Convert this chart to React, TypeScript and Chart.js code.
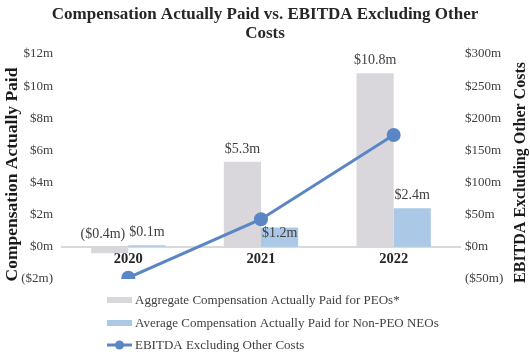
import React, { useEffect, useRef } from 'react';
import { Chart, registerables } from 'chart.js';

Chart.register(...registerables);

const titleLines = ['Compensation Actually Paid vs. EBITDA Excluding Other', 'Costs'];
const categories = ['2020', '2021', '2022'];
const peoValues = [-0.4, 5.3, 10.8];
const neoValues = [0.1, 1.2, 2.4];
const ebitdaValues = [-48, 43, 174];
const seriesNames = [
  'Aggregate Compensation Actually Paid for PEOs*',
  'Average Compensation Actually Paid for Non-PEO NEOs',
  'EBITDA Excluding Other Costs',
];
const leftAxisTitle = 'Compensation Actually Paid';
const rightAxisTitle = 'EBITDA Excluding Other Costs';

const SERIF = '"Liberation Serif", "Times New Roman", serif';
const GRAY = '#d9d6dc';
const LIGHTBLUE = '#abc9e7';
const LINEBLUE = '#5b86c5';
const TEXT = '#404040';

const fmt = (v: number, digits: number) =>
  v < 0 ? `($${Math.abs(v).toFixed(digits)}m)` : `$${v.toFixed(digits)}m`;

const overlay = {
  id: 'overlay',
  afterDatasetsDraw(chart: any) {
    const ctx = chart.ctx;
    ctx.save();
    ctx.font = `14px ${SERIF}`;
    ctx.fillStyle = TEXT;
    ctx.textAlign = 'center';
    ctx.textBaseline = 'middle';
    const lineMeta = chart.getDatasetMeta(2);
    const n = categories.length;
    for (let i = 0; i < n; i++) {
      const labels: any[] = [];
      [0, 1].forEach((di) => {
        const meta = chart.getDatasetMeta(di);
        const el = meta.data[i];
        const v = chart.data.datasets[di].data[i];
        const text = fmt(v, 1);
        const w = ctx.measureText(text).width;
        const top = Math.min(el.y, el.base);
        let cy = top - 12.5;
        const pt = lineMeta.data[i];
        // avoid overlapping the line point: put label inside bar top
        if (
          pt &&
          Math.abs(pt.y - cy) < 14 &&
          pt.x + 7 > el.x - w / 2 &&
          pt.x - 7 < el.x + w / 2
        ) {
          cy = top + 6;
        }
        labels.push({ text, w, cx: el.x, cy });
      });
      const [a, b] = labels;
      if (Math.abs(a.cy - b.cy) < 14) {
        const overlap = a.cx + a.w / 2 + 4 - (b.cx - b.w / 2);
        if (overlap > 0) a.cx -= overlap;
      }
      labels.forEach((l) => ctx.fillText(l.text, l.cx, l.cy));
    }
    ctx.restore();
  },
  afterDraw(chart: any) {
    const ctx = chart.ctx;
    const area = chart.chartArea;
    ctx.save();
    // Title
    ctx.fillStyle = '#262626';
    ctx.font = `bold 17px ${SERIF}`;
    ctx.textAlign = 'center';
    ctx.textBaseline = 'alphabetic';
    const cx = chart.width / 2;
    ctx.fillText(titleLines[0], cx, 18.5);
    ctx.fillText(titleLines[1], cx, 38);

    // Axis titles
    ctx.fillStyle = '#1a1a1a';
    ctx.textBaseline = 'middle';
    const midY = (area.top + area.bottom) / 2;
    ctx.save();
    ctx.translate(12, midY + 8);
    ctx.rotate(-Math.PI / 2);
    ctx.font = `bold 17.5px ${SERIF}`;
    ctx.fillText(leftAxisTitle, 0, 0);
    ctx.restore();
    ctx.save();
    ctx.translate(521, midY + 6);
    ctx.rotate(-Math.PI / 2);
    ctx.font = `bold 16px ${SERIF}`;
    ctx.fillText(rightAxisTitle, 0, 0);
    ctx.restore();

    // Legend
    const x0 = 107;
    const boxW = 25;
    const rows = [area.bottom + 21, area.bottom + 44, area.bottom + 66];
    ctx.font = `13px ${SERIF}`;
    ctx.textAlign = 'left';
    ctx.textBaseline = 'middle';
    chart.data.datasets.forEach((ds: any, i: number) => {
      const y = rows[i];
      if (ds.type === 'line') {
        ctx.strokeStyle = ds.borderColor;
        ctx.lineWidth = 3;
        ctx.beginPath();
        ctx.moveTo(x0, y);
        ctx.lineTo(x0 + boxW, y);
        ctx.stroke();
        ctx.fillStyle = ds.borderColor;
        ctx.beginPath();
        ctx.arc(x0 + boxW / 2, y, 4.5, 0, Math.PI * 2);
        ctx.fill();
      } else {
        ctx.fillStyle = ds.backgroundColor;
        ctx.fillRect(x0, y - 3, boxW, 6);
      }
      ctx.fillStyle = TEXT;
      ctx.fillText(ds.label, x0 + boxW + 3, y + 1);
    });
    ctx.restore();
  },
};

export default function App() {
  const canvasRef = useRef<HTMLCanvasElement | null>(null);

  useEffect(() => {
    const canvas = canvasRef.current;
    if (!canvas) return;
    const chart = new Chart(canvas, {
      type: 'bar',
      data: {
        labels: categories,
        datasets: [
          {
            type: 'bar',
            label: seriesNames[0],
            data: peoValues,
            backgroundColor: GRAY,
            yAxisID: 'y',
            order: 1,
            categoryPercentage: 0.56,
            barPercentage: 1.0,
          },
          {
            type: 'bar',
            label: seriesNames[1],
            data: neoValues,
            backgroundColor: LIGHTBLUE,
            yAxisID: 'y',
            order: 1,
            categoryPercentage: 0.56,
            barPercentage: 1.0,
          },
          {
            type: 'line',
            label: seriesNames[2],
            data: ebitdaValues,
            borderColor: LINEBLUE,
            backgroundColor: LINEBLUE,
            borderWidth: 3,
            pointRadius: 7,
            pointBackgroundColor: LINEBLUE,
            pointBorderWidth: 0,
            yAxisID: 'y1',
            order: 0,
          },
        ] as any,
      },
      options: {
        animation: false,
        responsive: false,
        events: [],
        layout: { padding: { top: 54, bottom: 73, left: 0, right: 0 } },
        plugins: {
          legend: { display: false },
          title: { display: false },
          tooltip: { enabled: false },
        },
        scales: {
          x: {
            type: 'category',
            position: { y: 0 } as any,
            grid: { display: false, drawTicks: false },
            border: { display: true, color: '#d9d9d9', width: 2 },
            ticks: {
              padding: 4,
              color: '#262626',
              font: { family: SERIF, size: 14.5, weight: 'bold' },
            },
          },
          y: {
            position: 'left',
            min: -2,
            max: 12,
            grid: { display: false, drawTicks: false },
            border: { display: false },
            ticks: {
              stepSize: 2,
              padding: 9,
              color: TEXT,
              font: { family: SERIF, size: 13 },
              callback: (v: any) => fmt(Number(v), 0),
            },
            afterFit: (s: any) => {
              s.width = 62;
            },
          },
          y1: {
            position: 'right',
            min: -50,
            max: 300,
            grid: { display: false, drawTicks: false },
            border: { display: false },
            ticks: {
              stepSize: 50,
              padding: 5,
              color: TEXT,
              font: { family: SERIF, size: 13 },
              callback: (v: any) => fmt(Number(v), 0),
            },
            afterFit: (s: any) => {
              s.width = 70;
            },
          },
        },
      } as any,
      plugins: [overlay],
    });
    return () => chart.destroy();
  }, []);

  return (
    <div
      style={{
        position: 'fixed',
        left: 0,
        top: 0,
        width: 530,
        height: 352,
        background: '#fff',
        overflow: 'hidden',
      }}
    >
      <canvas ref={canvasRef} width={530} height={352} style={{ display: 'block' }} />
    </div>
  );
}
